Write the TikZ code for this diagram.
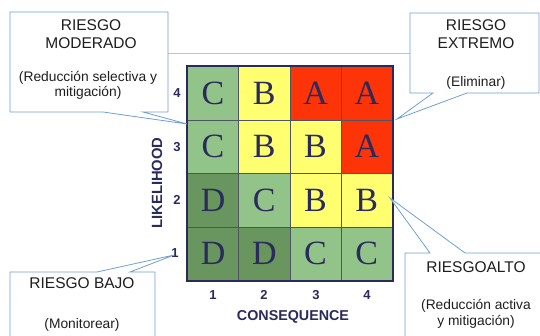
\documentclass[tikz,border=0pt]{standalone}
\usepackage{fontspec}
\setmainfont{Liberation Sans}
\newfontfamily\serifletters{Liberation Serif}
\definecolor{lgreen}{RGB}{146,196,138}
\definecolor{dgreen}{RGB}{104,150,94}
\definecolor{myellow}{RGB}{255,255,112}
\definecolor{mred}{RGB}{252,52,8}
\definecolor{navy}{RGB}{42,42,92}
\definecolor{gridln}{RGB}{78,84,96}
\definecolor{callln}{RGB}{112,160,210}
\definecolor{txtc}{RGB}{30,30,30}
\begin{document}
\begin{tikzpicture}[x=1pt,y=-1pt,
  cell/.style={draw=gridln,line width=0.8pt,minimum width=51.25pt,minimum height=53.5pt,inner sep=0pt,anchor=north west,
    font=\serifletters\fontsize{34}{34}\selectfont,text=navy},
  axlab/.style={font=\bfseries\fontsize{13}{13}\selectfont,text=navy,inner sep=0pt},
  callbox/.style={draw=callln,line width=0.8pt,fill=white,line join=miter},
  ctitle/.style={align=center,font=\fontsize{15.5}{18}\selectfont,text=txtc,inner sep=0pt},
  csub/.style={align=center,font=\fontsize{13.8}{15.5}\selectfont,text=txtc,inner sep=0pt}]
\useasboundingbox (0,0) rectangle (540,335);
% faint horizontal rule
\draw[draw={rgb,255:red,195;green,195;blue,195},line width=0.7pt] (168,53) -- (410,53);
% grid cells
\def\cw{51.25}\def\ch{53.5}
\foreach \r/\c/\col/\l in {
  1/1/lgreen/C,1/2/myellow/B,1/3/mred/A,1/4/mred/A,
  2/1/lgreen/C,2/2/myellow/B,2/3/myellow/B,2/4/mred/A,
  3/1/dgreen/D,3/2/lgreen/C,3/3/myellow/B,3/4/myellow/B,
  4/1/dgreen/D,4/2/dgreen/D,4/3/lgreen/C,4/4/lgreen/C}{
  \node[cell,fill=\col] (cell\r\c) at ({187+(\c-1)*\cw},{66+(\r-1)*\ch}) {\l};
}
\draw[navy,line width=2.6pt] (cell11.north west) rectangle (cell44.south east);
% axis labels
\node[axlab] (r4) at (177,93) {4};
\node[axlab] (r3) at (177,147) {3};
\node[axlab] (r2) at (177,200) {2};
\node[axlab] (r1) at (175,253) {1};
\node[axlab] (k1) at (213,295) {1};
\node[axlab] (k2) at (264,295) {2};
\node[axlab] (k3) at (316,295) {3};
\node[axlab] (k4) at (367,295) {4};
\node[axlab,font=\bfseries\fontsize{14.3}{14}\selectfont] (xl) at (293,317) {CONSEQUENCE};
\node[axlab,font=\bfseries\fontsize{14.8}{14}\selectfont,rotate=90] (yl) at (157,183) {LIKELIHOOD};
% callouts
\coordinate (tipM) at (187,124);
\coordinate (tipE) at (397,119);
\coordinate (tipB) at (174,255);
\coordinate (tipA) at (390,198);
\draw[callbox] (10,12) -- (168,12) -- (168,112) -- (143,112) -- (tipM) -- (103,112) -- (10,112) -- cycle;
\draw[callbox] (410,13) -- (539,13) -- (539,93) -- (467,93) -- (tipE) -- (433,93) -- (410,93) -- cycle;
\draw[callbox] (10,336) -- (10,272) -- (97,272) -- (tipB) -- (130,272) -- (155,272) -- (155,336);
\draw[callbox] (405,336) -- (405,253) -- (430,253) -- (tipA) -- (465,253) -- (541,253);
% callout texts
\node[ctitle] (mt) at (91,34) {RIESGO\\MODERADO};
\node[csub] (ms) at (88,85.5) {(Reducción selectiva y\\mitigación)};
\node[ctitle] (et) at (476,34) {RIESGO\\EXTREMO};
\node[csub] (es) at (476,83) {(Eliminar)};
\node[ctitle] (bt) at (82,283) {RIESGO BAJO};
\node[csub] (bs) at (82,325) {(Monitorear)};
\node[ctitle] (at) at (476,267) {RIESGOALTO};
\node[csub] (as) at (476,314) {(Reducción activa\\y mitigación)};
\end{tikzpicture}
\end{document}
